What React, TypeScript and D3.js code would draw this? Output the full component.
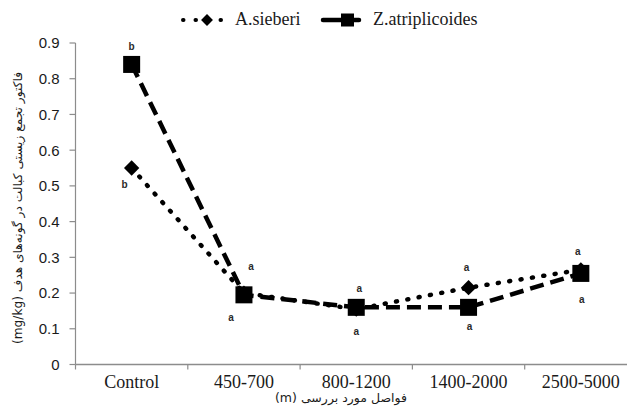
import React from "react";
import * as d3 from "d3";

const categories = ["Control", "450-700", "800-1200", "1400-2000", "2500-5000"];
const sieberi = [0.55, 0.2, 0.155, 0.215, 0.265];
const atriplicoides = [0.84, 0.195, 0.16, 0.16, 0.255];
const yTicks = [0, 0.1, 0.2, 0.3, 0.4, 0.5, 0.6, 0.7, 0.8, 0.9];
// mean-separation letters for each series
const lettersSieberi = ["b", "a", "a", "a", "a"];
const lettersAtrip = ["b", "a", "a", "a", "a"];

const W = 627;
const H = 408;
const left = 75.5;
const plotRight = 637; // the category axis runs past the right edge of the canvas
const plotTop = 43;
const bottom = 364.5;

const serif = "Liberation Serif";
const sans = "Liberation Sans";
const persian = "DejaVu Sans";
const axisColor = "#8c8c8c";
const ink = "#1a1a1a";

export default function App() {
  const x = d3.scaleBand<string>().domain(categories).range([left, plotRight]);
  const y = d3.scaleLinear().domain([0, 0.9]).range([bottom, plotTop]);
  const cx = (c: string) => (x(c) as number) + x.bandwidth() / 2;
  const line = d3
    .line<number>()
    .x((_, i) => cx(categories[i]))
    .y((d) => y(d));
  const diamond = d3.symbol().type(d3.symbolDiamond2).size(150)() || "";
  const legendDiamond = d3.symbol().type(d3.symbolDiamond2).size(90)() || "";

  // label offsets (dx, dy) from each marker
  const sOff = [
    [-7, 16],
    [-13, 24],
    [0, 22],
    [-2, -20],
    [-3, -18],
  ];
  const zOff = [
    [0, -18],
    [7, -28],
    [3, -19],
    [1, 19],
    [1, 26],
  ];

  const letter = (key: string, px: number, py: number, t: string) => (
    <text
      key={key}
      x={px}
      y={py}
      dy="0.35em"
      textAnchor="middle"
      fontFamily={sans}
      fontWeight={700}
      fontSize={10}
      fill="#2a2a2a"
    >
      {t}
    </text>
  );

  return (
    <svg width={W} height={H} style={{ display: "block", position: "absolute", left: 0, top: 0 }}>
      <rect width={W} height={H} fill="#fff" />
      {/* value axis */}
      <line x1={left} x2={left} y1={plotTop} y2={bottom} stroke={axisColor} strokeWidth={1.2} />
      {yTicks.map((t) => (
        <g key={t}>
          <line x1={left - 6} x2={left} y1={y(t)} y2={y(t)} stroke={axisColor} strokeWidth={1.2} />
          <text x={left - 16} y={y(t)} dy="0.36em" textAnchor="end" fontFamily={sans} fontSize={15} fill={ink}>
            {t === 0 ? "0" : t.toFixed(1)}
          </text>
        </g>
      ))}
      {/* category axis */}
      <line x1={left} x2={W} y1={bottom} y2={bottom} stroke={axisColor} strokeWidth={1.5} />
      {categories.map((c) => (
        <line
          key={"t" + c}
          x1={x(c) as number}
          x2={x(c) as number}
          y1={bottom}
          y2={bottom + 5}
          stroke={axisColor}
          strokeWidth={1.2}
        />
      ))}
      {categories.map((c) => (
        <text key={c} x={cx(c)} y={bottom + 23} textAnchor="middle" fontFamily={serif} fontSize={18} fill={ink}>
          {c}
        </text>
      ))}
      <text
        x={341}
        y={402}
        textAnchor="middle"
        direction="rtl"
        textLength={132}
        lengthAdjust="spacingAndGlyphs"
        fontFamily={persian}
        fontSize={12}
        fill={ink}
      >
        فواصل مورد بررسی (m)
      </text>
      <text
        transform="translate(22,208) rotate(-90)"
        textAnchor="middle"
        direction="rtl"
        textLength={272}
        lengthAdjust="spacingAndGlyphs"
        fontFamily={persian}
        fontSize={12}
        fill={ink}
      >
        فاکتور تجمع زیستی کبالت در گونه‌های هدف (mg/kg)
      </text>

      {/* series lines */}
      <path d={line(atriplicoides) || ""} fill="none" stroke="#000" strokeWidth={4.5} strokeDasharray="14 7" />
      <path
        d={line(sieberi) || ""}
        fill="none"
        stroke="#000"
        strokeWidth={4.5}
        strokeLinecap="round"
        strokeDasharray="1 10.5"
      />
      {sieberi.map((v, i) => (
        <path key={"d" + i} d={diamond} transform={`translate(${cx(categories[i])},${y(v)})`} fill="#000" />
      ))}
      {atriplicoides.map((v, i) => (
        <rect key={"s" + i} x={cx(categories[i]) - 8.5} y={y(v) - 8.5} width={17} height={17} fill="#000" />
      ))}

      {sieberi.map((v, i) =>
        letter("ls" + i, cx(categories[i]) + sOff[i][0], y(v) + sOff[i][1], lettersSieberi[i])
      )}
      {atriplicoides.map((v, i) =>
        letter("lz" + i, cx(categories[i]) + zOff[i][0], y(v) + zOff[i][1], lettersAtrip[i])
      )}

      {/* legend */}
      <g>
        <line x1={183} x2={221} y1={20} y2={20} stroke="#000" strokeWidth={4} strokeLinecap="round" strokeDasharray="0.5 12" />
        <path d={legendDiamond} transform="translate(207,20)" fill="#000" />
        <text x={235} y={25} fontFamily={serif} fontSize={18} fill={ink}>
          A.sieberi
        </text>
        <line x1={323} x2={359} y1={20} y2={20} stroke="#000" strokeWidth={4.5} strokeLinecap="round" />
        <rect x={341} y={13.5} width={13} height={13} fill="#000" />
        <text x={373} y={25} fontFamily={serif} fontSize={18} fill={ink}>
          Z.atriplicoides
        </text>
      </g>
    </svg>
  );
}
